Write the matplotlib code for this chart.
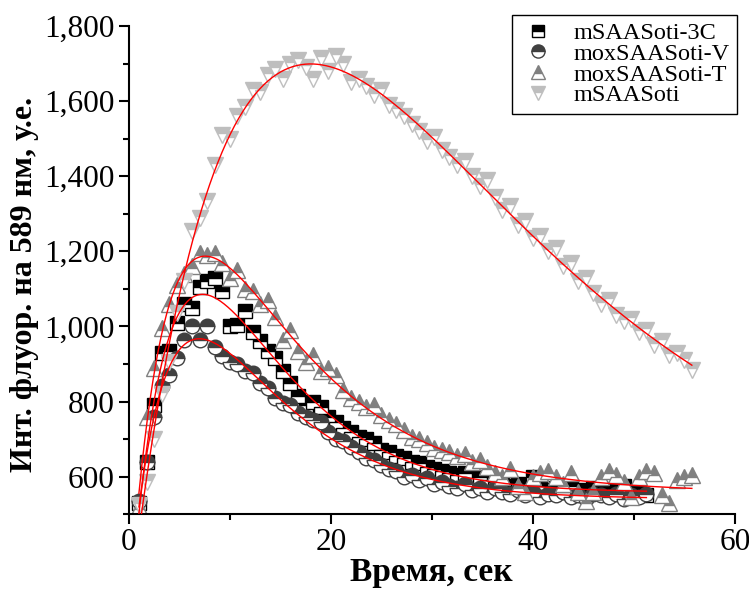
import numpy as np
import matplotlib
matplotlib.use("Agg")
import matplotlib.pyplot as plt
from matplotlib.ticker import FuncFormatter, MultipleLocator

# ---------------- data ----------------
t_long = np.round(1.0 + 0.75 * np.arange(74), 2)   # time, s
t_short = np.round(1.0 + 0.75 * np.arange(68), 2)

mSAASoti = [525, 585, 700, 820, 905, 1035, 1120, 1255, 1290, 1335,
            1430, 1510, 1500, 1560, 1585, 1630, 1625, 1670, 1685, 1660,
            1700, 1710, 1690, 1660, 1715, 1680, 1720, 1700, 1650, 1660,
            1640, 1615, 1630, 1590, 1575, 1560, 1540, 1520, 1495, 1505,
            1470, 1450, 1430, 1440, 1400, 1375, 1390, 1345, 1310, 1320,
            1270, 1280, 1235, 1240, 1200, 1210, 1160, 1170, 1120, 1130,
            1090, 1060, 1070, 1030, 1015, 1020, 985, 990, 950, 960,
            925, 930, 910, 885]

moxSAASoti_T = [520, 760, 890, 995, 1060, 1110, 1140, 1160, 1195, 1190,
                1195, 1170, 1130, 1150, 1100, 1095, 1060, 1070, 1025, 965,
                990, 935, 905, 925, 880, 890, 870, 830, 810, 800,
                785, 790, 765, 750, 740, 725, 705, 700, 690, 675,
                670, 665, 655, 660, 640, 645, 625, 610, 600, 620,
                575, 560, 600, 610, 615, 600, 580, 610, 560, 535,
                560, 600, 615, 605, 585, 545, 600, 615, 610, 550,
                530, 590, 600, 605]

mSAASoti_3C = [530, 640, 790, 930, 935, 1010, 1060, 1050, 1105, 1120,
               1130, 1095, 1000, 1005, 1040, 985, 960, 935, 915, 880,
               850, 815, 790, 800, 785, 760, 745, 730, 720, 705,
               700, 690, 670, 665, 655, 650, 640, 635, 625, 620,
               615, 610, 605, 610, 595, 600, 590, 585, 590, 575,
               580, 570, 600, 575, 565, 570, 560, 575, 565, 560,
               570, 560, 555, 565, 575, 555, 560, 550]

moxSAASoti_V = [535, 640, 760, 840, 870, 915, 965, 1000, 965, 1000,
                945, 920, 905, 900, 880, 875, 850, 835, 810, 795,
                790, 770, 760, 750, 745, 720, 700, 695, 680, 665,
                650, 645, 630, 620, 615, 600, 605, 590, 595, 580,
                585, 575, 570, 580, 565, 570, 560, 570, 560, 555,
                565, 550, 560, 545, 555, 550, 560, 545, 550, 540,
                555, 550, 545, 555, 540, 550, 545, 555]

labels = ["mSAASoti-3C", "moxSAASoti-V", "moxSAASoti-T", "mSAASoti"]
x_ticks = [0, 20, 40, 60]
y_ticks = [600, 800, 1000, 1200, 1400, 1600, 1800]

# ---------------- fitting (double exponential, from data) ----------------
def fit_curve(t, y):
    t = np.asarray(t, float)
    y = np.asarray(y, float)
    best = None
    for k1 in np.geomspace(0.003, 1.0, 70):
        for k2 in np.geomspace(0.05, 6.0, 70):
            if k2 <= k1 * 1.2:
                continue
            M = np.column_stack([np.ones_like(t), np.exp(-k1 * t), np.exp(-k2 * t)])
            coef, *_ = np.linalg.lstsq(M, y, rcond=None)
            r = np.sum((M @ coef - y) ** 2)
            if best is None or r < best[0]:
                best = (r, k1, k2, coef)
    _, k1, k2, c = best
    tt = np.linspace(t[0], t[-1], 400)
    return tt, c[0] + c[1] * np.exp(-k1 * tt) + c[2] * np.exp(-k2 * tt)

# ---------------- plot ----------------
plt.rcParams['font.family'] = ['Liberation Serif', 'DejaVu Serif']
fig = plt.figure(figsize=(7.49, 5.91), dpi=100)
ax = fig.add_axes([0.172, 0.130, 0.809, 0.826])

styles = [
    (t_short, mSAASoti_3C, 's', '#000000', 9.5),
    (t_short, moxSAASoti_V, 'o', '#404040', 10.5),
    (t_long, moxSAASoti_T, '^', '#808080', 11),
    (t_long, mSAASoti, 'v', '#BEBEBE', 11),
]
for (t, y, m, col, ms), lab in zip(styles, labels):
    ax.plot(t, y, linestyle='none', marker=m, markersize=ms, fillstyle='top',
            markerfacecolor=col, markerfacecoloralt='white',
            markeredgecolor=col, markeredgewidth=1.0, label=lab, zorder=2)

for (t, y, m, col, ms) in styles:
    tt, yy = fit_curve(t, y)
    ax.plot(tt, yy, color='red', lw=1.0, zorder=3)

ax.set_xlim(0, 60)
ax.set_ylim(500, 1800)
ax.set_xticks(x_ticks)
ax.set_yticks(y_ticks)
ax.xaxis.set_minor_locator(MultipleLocator(10))
ax.yaxis.set_minor_locator(MultipleLocator(100))
ax.yaxis.set_major_formatter(FuncFormatter(lambda v, p: f"{v:,.0f}"))

for s in ['top', 'right']:
    ax.spines[s].set_visible(False)
for s in ['left', 'bottom']:
    ax.spines[s].set_linewidth(1.5)
ax.tick_params(which='major', direction='out', length=7, width=1.5, labelsize=22.5, pad=3)
ax.tick_params(which='minor', direction='out', length=4, width=1.5)

ax.set_xlabel("Время, сек", fontsize=24, fontweight='bold', labelpad=0)
ax.set_ylabel("Инт. флуор. на 589 нм, у.е.", fontsize=23, fontweight='bold', labelpad=4)
ax.yaxis.label.set_y(0.47)

leg = ax.legend(loc='upper right', bbox_to_anchor=(1.003, 1.023), borderaxespad=0,
                fontsize=17.5, frameon=True, fancybox=False, framealpha=1,
                edgecolor='black', handletextpad=0.7, labelspacing=-0.05,
                borderpad=0.3, handlelength=1.5, markerscale=0.9)
leg.get_frame().set_linewidth(1.0)

fig.savefig("out.png", dpi=100)
